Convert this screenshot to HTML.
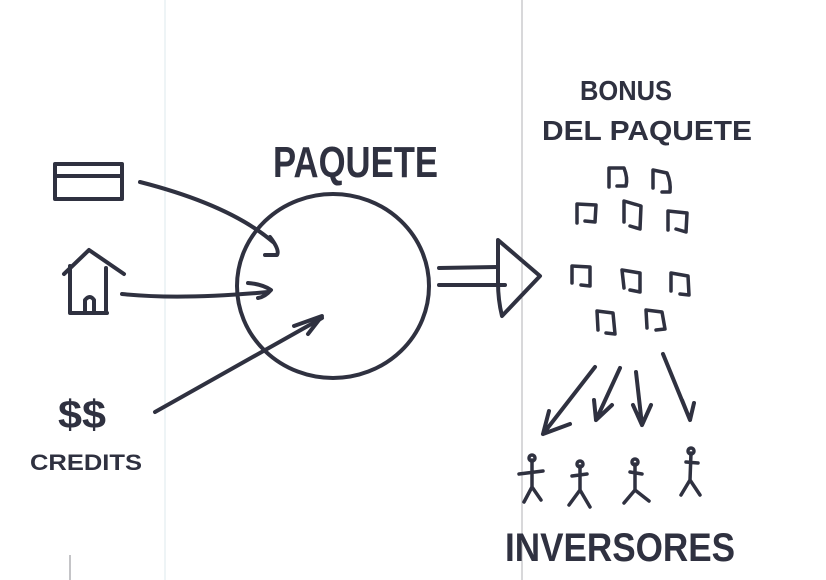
<!DOCTYPE html>
<html><head><meta charset="utf-8"><style>
html,body{margin:0;padding:0;background:#fff;}
svg{display:block}
text{font-family:"Liberation Sans",sans-serif;font-weight:bold;fill:#2f3140}
</style></head><body>
<svg width="826" height="580" viewBox="0 0 826 580" xmlns="http://www.w3.org/2000/svg">
<rect width="826" height="580" fill="#fff"/>
<line x1="165" y1="0" x2="165" y2="580" stroke="#dde8ee" stroke-width="1"/>
<line x1="522" y1="0" x2="522" y2="580" stroke="#b0b0b4" stroke-width="1"/>
<line x1="70" y1="555" x2="70" y2="580" stroke="#b0b0b4" stroke-width="1.5"/>
<g fill="none" stroke="#2f3140" stroke-width="4" stroke-linecap="round" stroke-linejoin="round">
<!-- card -->
<rect x="55" y="164" width="67" height="35"/>
<line x1="55" y1="176" x2="122" y2="176"/>
<!-- house -->
<path d="M64 274 L89 250 L124 274"/>
<path d="M70 266 L70 313 L107 313 M106 268 L106 313"/>
<path d="M85 313 L85 300 Q90 294 94 300 L94 313"/>
<!-- circle -->
<ellipse cx="333" cy="286" rx="96" ry="92"/>
<!-- arrows in -->
<path d="M140 182 Q230 205 273 242"/>
<path d="M270 237 Q280 250 277 255 L265 255"/>
<path d="M122 294 Q180 300 268 292"/>
<path d="M248 283 Q262 284 271 290 Q265 297 258 298"/>
<path d="M155 412 Q230 370 322 318"/>
<path d="M294 326 L322 316 L308 334"/>
<!-- big arrow -->
<path d="M439 268 L497 267 M439 285 L505 285"/>
<path d="M498 240 L540 276 L502 316 Q498 300 498 282 Z"/>
<!-- small boxes -->
<g stroke-width="3.5">
<path d="M609 187 L609 168 L624 168 Q628 178 626 186 L617 186"/>
<path d="M653 188 L653 170 L667 173 Q671 182 670 192 L662 192"/>
<path d="M577 223 L577 204 L596 205 L595 222 L585 221"/>
<path d="M624 222 L624 201 L641 206 L640 229 L630 226"/>
<path d="M668 230 L668 211 L687 213 L686 232 L676 229"/>
<path d="M572 283 L572 266 L590 267 L590 286 L581 285"/>
<path d="M624 288 L622 270 L640 273 L640 292 L630 290"/>
<path d="M671 291 L671 273 L688 276 L689 295 L680 294"/>
<path d="M598 330 L597 311 L613 313 L615 334 L606 333"/>
<path d="M647 328 L646 310 L662 312 L665 329 L656 330"/>
</g>
<!-- down arrows -->
<path d="M595 367 L543 434 M549 411 L543 434 L570 424"/>
<path d="M620 368 L596 420 M594 400 L596 420 L612 405"/>
<path d="M636 372 L642 425 M633 405 L642 425 L651 405"/>
<path d="M663 354 L690 420 M682 400 L690 420 L694 403"/>
<!-- stick figures -->
<g stroke-width="3.5">
<circle cx="532" cy="458" r="3"/><path d="M532 460 L532 487 M519 474 L543 471 M532 487 L524 502 M532 487 L541 500"/>
<circle cx="580" cy="464" r="3"/><path d="M580 466 L580 490 M572 476 L587 474 M580 490 L569 505 M580 490 L590 507"/>
<circle cx="635" cy="462" r="3"/><path d="M635 464 L635 490 M630 472 L642 474 M635 490 L624 503 M635 490 L649 501"/>
<circle cx="691" cy="451" r="3"/><path d="M691 453 L690 480 M686 462 L698 463 M690 480 L681 495 M690 480 L700 495"/>
</g>
</g>
<text x="273" y="177" font-size="44" textLength="165" lengthAdjust="spacingAndGlyphs">PAQUETE</text>
<text x="580" y="100" font-size="28" textLength="92" lengthAdjust="spacingAndGlyphs">BONUS</text>
<text x="542" y="140" font-size="28" textLength="210" lengthAdjust="spacingAndGlyphs">DEL  PAQUETE</text>
<text x="30" y="470" font-size="22" textLength="112" lengthAdjust="spacingAndGlyphs">CREDITS</text>
<text x="58" y="428" font-size="40" textLength="48" lengthAdjust="spacingAndGlyphs">$$</text>
<text x="505" y="561" font-size="40" textLength="230" lengthAdjust="spacingAndGlyphs">INVERSORES</text>
</svg>
</body></html>
